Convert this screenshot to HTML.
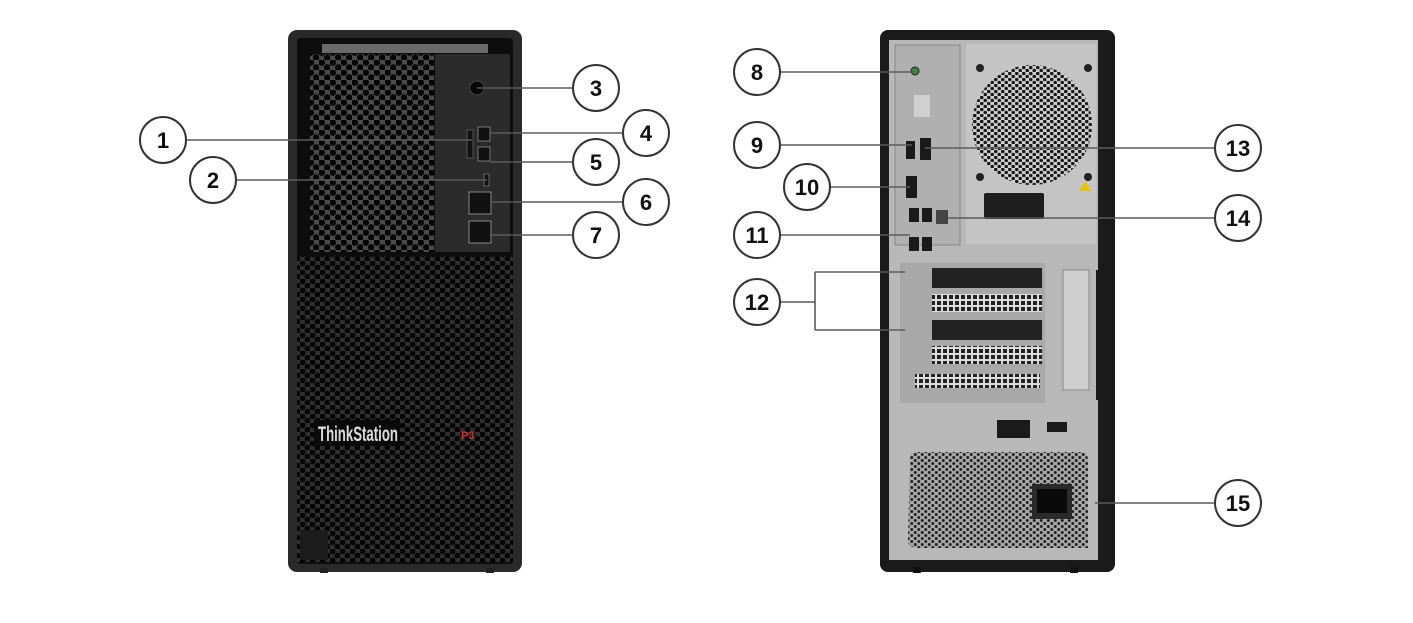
<!DOCTYPE html>
<html><head><meta charset="utf-8"><style>
html,body{margin:0;padding:0;background:#fff;}
svg{display:block;}
</style></head><body>
<svg width="1413" height="623" viewBox="0 0 1413 623" xmlns="http://www.w3.org/2000/svg">
<defs>
<pattern id="hex" width="11" height="10" patternUnits="userSpaceOnUse">
<rect width="11" height="10" fill="#4a4a4a"/>
<circle cx="2.75" cy="2.5" r="3.3" fill="#050505"/>
<circle cx="8.25" cy="7.5" r="3.3" fill="#050505"/>
</pattern>
<pattern id="hex2" width="10" height="9" patternUnits="userSpaceOnUse">
<rect width="10" height="9" fill="#303030"/>
<circle cx="2.5" cy="2.25" r="3" fill="#050505"/>
<circle cx="7.5" cy="6.75" r="3" fill="#050505"/>
</pattern>
<pattern id="dots" width="7" height="6" patternUnits="userSpaceOnUse">
<rect width="7" height="6" fill="#d0d0d0"/>
<circle cx="1.75" cy="1.5" r="1.8" fill="#1a1a1a"/>
<circle cx="5.25" cy="4.5" r="1.8" fill="#1a1a1a"/>
</pattern>
<pattern id="psu" width="7" height="6" patternUnits="userSpaceOnUse">
<rect width="7" height="6" fill="#a8a8a8"/>
<circle cx="1.75" cy="1.5" r="1.5" fill="#222"/>
<circle cx="5.25" cy="4.5" r="1.5" fill="#222"/>
</pattern>
<pattern id="vent" width="6" height="6" patternUnits="userSpaceOnUse">
<rect width="6" height="6" fill="#ddd"/>
<rect x="1" y="1" width="4" height="4" fill="#222"/>
</pattern>
</defs>

<!-- FRONT TOWER -->
<rect x="288" y="30" width="234" height="542" rx="9" fill="#2a2a2a"/>
<rect x="297" y="38" width="216" height="526" rx="3" fill="#0d0d0d"/>
<rect x="322" y="44" width="166" height="9" fill="#6a6a6a"/>
<rect x="310" y="54" width="124" height="198" fill="url(#hex)"/>
<rect x="435" y="54" width="75" height="198" fill="#2b2b2b"/>
<rect x="297" y="256" width="216" height="306" fill="url(#hex2)"/>
<rect x="300" y="530" width="28" height="30" fill="#1c1c1c"/>
<circle cx="477" cy="88" r="7" fill="#050505" stroke="#444"/>
<rect x="467" y="130" width="6" height="28" fill="#111" stroke="#555"/>
<rect x="478" y="127" width="12" height="14" fill="#111" stroke="#777"/>
<rect x="478" y="147" width="12" height="14" fill="#111" stroke="#777"/>
<rect x="484" y="174" width="5" height="12" fill="#111" stroke="#666"/>
<rect x="469" y="192" width="22" height="22" fill="#111" stroke="#888"/>
<rect x="469" y="221" width="22" height="22" fill="#111" stroke="#888"/>
<rect x="314" y="420" width="86" height="26" fill="#0a0a0a"/>
<text x="318" y="441" font-family="Liberation Sans Narrow, Liberation Sans, sans-serif" font-size="21" font-weight="600" fill="#ddd" textLength="80" lengthAdjust="spacingAndGlyphs">ThinkStation</text>
<text x="461" y="439" font-family="Liberation Sans, sans-serif" font-size="11" font-weight="bold" fill="#c33">P3</text>
<rect x="320" y="568" width="8" height="5" fill="#222"/>
<rect x="486" y="568" width="8" height="5" fill="#222"/>

<!-- REAR TOWER -->
<rect x="880" y="30" width="235" height="542" rx="8" fill="#1a1a1a"/>
<rect x="889" y="40" width="209" height="520" fill="#b8b8b8"/>
<rect x="966" y="44" width="130" height="200" fill="#c4c4c4"/>
<rect x="895" y="45" width="65" height="200" fill="#b0b0b0" stroke="#888"/>
<circle cx="1032" cy="125" r="60" fill="url(#dots)"/>
<circle cx="980" cy="68" r="4" fill="#222"/><circle cx="1088" cy="68" r="4" fill="#222"/>
<circle cx="980" cy="177" r="4" fill="#222"/><circle cx="1088" cy="177" r="4" fill="#222"/>
<polygon points="1085,181 1091,191 1079,191" fill="#e8c400"/>
<rect x="984" y="193" width="60" height="26" rx="2" fill="#1e1e1e"/>
<circle cx="915" cy="71" r="4" fill="#3a8a3a" stroke="#222"/>
<rect x="914" y="95" width="16" height="22" fill="#d0d0d0"/>
<rect x="906" y="141" width="9" height="18" fill="#1a1a1a"/>
<rect x="920" y="138" width="11" height="22" fill="#1a1a1a"/>
<rect x="906" y="176" width="11" height="22" fill="#1a1a1a"/>
<rect x="909" y="208" width="10" height="14" fill="#1a1a1a"/><rect x="922" y="208" width="10" height="14" fill="#1a1a1a"/>
<rect x="909" y="237" width="10" height="14" fill="#1a1a1a"/><rect x="922" y="237" width="10" height="14" fill="#1a1a1a"/>
<rect x="936" y="210" width="12" height="14" fill="#444"/>
<rect x="900" y="263" width="145" height="140" fill="#a8a8a8"/>
<rect x="932" y="268" width="110" height="20" fill="#222"/>
<rect x="932" y="294" width="110" height="18" fill="url(#vent)"/>
<rect x="932" y="320" width="110" height="20" fill="#222"/>
<rect x="932" y="346" width="110" height="18" fill="url(#vent)"/>
<rect x="915" y="374" width="125" height="14" fill="url(#vent)"/>
<rect x="1063" y="270" width="26" height="120" fill="#cfcfcf" stroke="#888"/>
<rect x="1096" y="270" width="10" height="130" fill="#1a1a1a"/>
<rect x="997" y="420" width="33" height="18" fill="#1a1a1a"/>
<rect x="1047" y="422" width="20" height="10" fill="#1a1a1a"/>
<path d="M910,460 Q908,452 918,452 L1080,452 Q1088,452 1088,460 L1088,548 L918,548 Q908,548 908,540 Z" fill="url(#psu)"/>
<rect x="1032" y="484" width="40" height="35" fill="#2a2a2a"/>
<rect x="1037" y="489" width="30" height="24" fill="#0a0a0a"/>
<rect x="913" y="567" width="8" height="6" fill="#111"/>
<rect x="1070" y="567" width="8" height="6" fill="#111"/>

<!-- LINES -->
<g stroke="#5a5a5a" stroke-width="1.6" fill="none">
<line x1="186" y1="140" x2="472" y2="140"/>
<line x1="236" y1="180" x2="487" y2="180"/>
<line x1="573" y1="88" x2="477" y2="88"/>
<line x1="623" y1="133" x2="490" y2="133"/>
<line x1="573" y1="162" x2="490" y2="162"/>
<line x1="623" y1="202" x2="490" y2="202"/>
<line x1="573" y1="235" x2="490" y2="235"/>
<line x1="780" y1="72" x2="915" y2="72"/>
<line x1="780" y1="145" x2="912" y2="145"/>
<line x1="830" y1="187" x2="910" y2="187"/>
<line x1="780" y1="235" x2="910" y2="235"/>
<line x1="780" y1="302" x2="815" y2="302"/>
<line x1="815" y1="272" x2="815" y2="330"/>
<line x1="815" y1="272" x2="905" y2="272"/>
<line x1="815" y1="330" x2="905" y2="330"/>
<line x1="1215" y1="148" x2="925" y2="148"/>
<line x1="1215" y1="218" x2="948" y2="218"/>
<line x1="1215" y1="503" x2="1095" y2="503"/>
</g>
<!-- CALLOUTS -->
<g font-family="Liberation Sans, sans-serif" font-weight="bold" font-size="22" text-anchor="middle" fill="#111">
<g stroke="#333" stroke-width="2" fill="#fff">
<circle cx="163" cy="140" r="23"/><circle cx="213" cy="180" r="23"/>
<circle cx="596" cy="88" r="23"/><circle cx="646" cy="133" r="23"/>
<circle cx="596" cy="162" r="23"/><circle cx="646" cy="202" r="23"/>
<circle cx="596" cy="235" r="23"/>
<circle cx="757" cy="72" r="23"/><circle cx="757" cy="145" r="23"/>
<circle cx="807" cy="187" r="23"/><circle cx="757" cy="235" r="23"/>
<circle cx="757" cy="302" r="23"/>
<circle cx="1238" cy="148" r="23"/><circle cx="1238" cy="218" r="23"/>
<circle cx="1238" cy="503" r="23"/>
</g>
<text x="163" y="148">1</text><text x="213" y="188">2</text>
<text x="596" y="96">3</text><text x="646" y="141">4</text>
<text x="596" y="170">5</text><text x="646" y="210">6</text>
<text x="596" y="243">7</text>
<text x="757" y="80">8</text><text x="757" y="153">9</text>
<text x="807" y="195">10</text><text x="757" y="243">11</text>
<text x="757" y="310">12</text>
<text x="1238" y="156">13</text><text x="1238" y="226">14</text>
<text x="1238" y="511">15</text>
</g>
</svg>
</body></html>
